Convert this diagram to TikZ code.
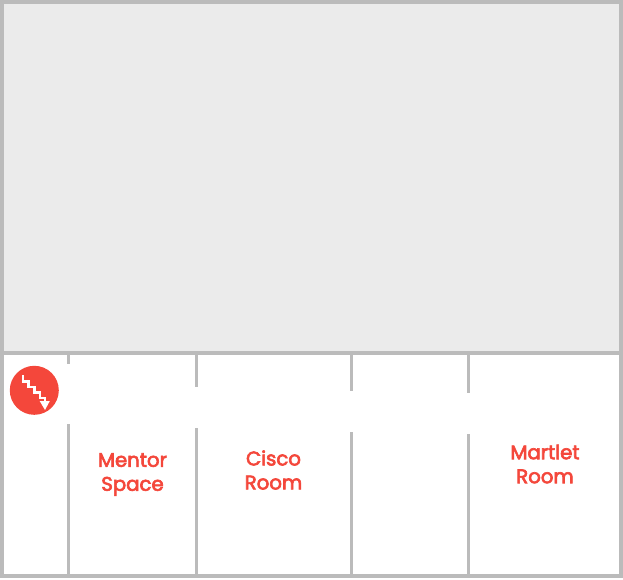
\documentclass[tikz,border=0pt]{standalone}
\usepackage{fontspec}
\setmainfont{Poppins}
\newfontfamily\labelfont{Poppins}[FakeBold=3.2]
\definecolor{wall}{HTML}{BBBBBB}
\definecolor{floorgrey}{HTML}{EBEBEB}
\definecolor{accent}{HTML}{F4473B}
\tikzset{
  wallfill/.style={fill=wall,draw=none},
  roomlabel/.style={text=accent,font=\labelfont\fontsize{19.7}{24}\selectfont,align=center,inner sep=0pt},
}
\begin{document}
\begin{tikzpicture}[x=1pt,y=-1pt]
\useasboundingbox (0,0) rectangle (623,579);
\fill[white] (0,0) rectangle (623,579);
\fill[floorgrey] (2,2) rectangle (621,353);
% outer walls
\fill[wallfill] (0,0) rectangle (623,4);
\fill[wallfill] (0,574) rectangle (623,578);
\fill[wallfill] (0,0) rectangle (4,578);
\fill[wallfill] (619,0) rectangle (623,578);
\fill[wallfill] (0,351) rectangle (623,355);
% partition walls
\fill[wallfill] (67,355) rectangle (70,364);
\fill[wallfill] (67,424) rectangle (70,574);
\fill[wallfill] (195,355) rectangle (198,387);
\fill[wallfill] (195,428) rectangle (198,574);
\fill[wallfill] (350,355) rectangle (353,391);
\fill[wallfill] (350,432) rectangle (353,574);
\fill[wallfill] (467,355) rectangle (470,393);
\fill[wallfill] (467,434) rectangle (470,574);
% stairs icon
\fill[accent] (34.3,390.3) circle (24.5);
\draw[white,line width=2.4pt] (23,375) -- (23,381.5) -- (28.5,381.5) -- (28.5,387) -- (34.5,387) -- (34.5,392.5) -- (40,392.5) -- (40,398) -- (45,398) -- (45,403);
\fill[white] (39.7,401) -- (49.8,401) -- (45,410) -- cycle;
% labels
\node[roomlabel] (mentor) at (132.5,474.5) {Mentor\\Space};
\node[roomlabel] (cisco) at (273.5,470) {Cisco\\Room};
\node[roomlabel] (martlet) at (545,464) {Martlet\\Room};
\end{tikzpicture}
\end{document}
